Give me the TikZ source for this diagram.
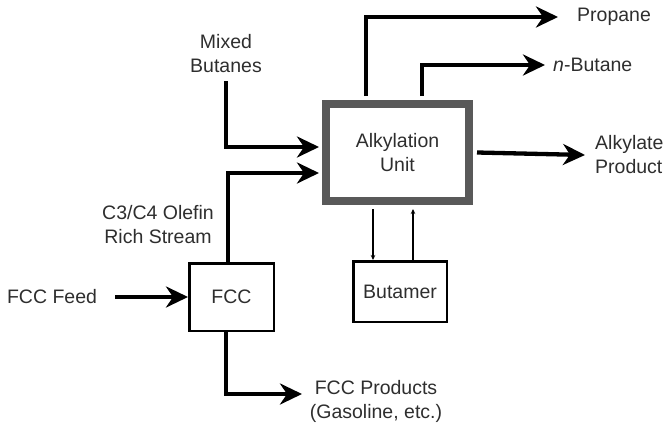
\documentclass[tikz,border=0pt]{standalone}
\usepackage{fontspec}
\setmainfont{Liberation Sans}
\usetikzlibrary{arrows.meta,positioning}
\definecolor{unitgray}{HTML}{595959}
\definecolor{labelgray}{HTML}{2E2E2E}
\begin{document}
\begin{tikzpicture}[
        x=1pt, y=-1pt,
        every node/.style={text=labelgray, font=\fontsize{19.5}{24}\selectfont, align=center},
        stream/.style={inner sep=0pt},
        unit/.style={draw, rectangle, line width=2.5pt},
        mainunit/.style={draw=unitgray, rectangle, line width=8pt, minimum width=143pt, minimum height=97pt},
        flow/.style={draw, line width=4.3pt, -{Stealth[length=22pt, width=21pt, inset=7pt]}},
        recycle/.style={draw, line width=1.5pt, -{Stealth[length=5pt, width=4.5pt]}},
    ]
    \useasboundingbox (0,0) rectangle (669,428);
    \node[mainunit](alky) at (397.5,152.5){Alkylation\\Unit};
    \node[unit, minimum width=84.5pt, minimum height=67.5pt](fcc) at (231.5,297){FCC};
    \node[unit, minimum width=93.5pt, minimum height=60.5pt](butamer) at (400,291.5){Butamer};
    \coordinate (propTip) at (558,17);
    \coordinate (nbTip) at (545,65);
    \coordinate (alkTip) at (585,155);
    \coordinate (prodTip) at (302,394);
    \node[stream, right=19pt of propTip](propane){Propane};
    \node[stream, right=8pt of nbTip](nbutane){\textit{n}-Butane};
    \node[stream, right=10pt of alkTip, align=left](alkylate){Alkylate\\Product};
    \node[stream](mixed) at (226,54){Mixed\\Butanes};
    \node[stream](olefin) at (158,225){C3/C4 Olefin\\Rich Stream};
    \node[stream](feed) at (52,297){FCC Feed};
    \node[stream](products) at (376,401){FCC Products\\(Gasoline, etc.)};
    \draw[flow] ([xshift=-31.5pt, yshift=4pt]alky.north) |- (propTip);
    \draw[flow] ([xshift=24.5pt, yshift=4pt]alky.north) |- (nbTip);
    \draw[flow] ([xshift=4pt]alky.east) -- (alkTip);
    \draw[flow] ([yshift=-8pt]mixed.south) |- ([xshift=-3pt, yshift=5.5pt]alky.west);
    \draw[flow] ([xshift=-3.5pt]fcc.north) |- ([xshift=-3pt, yshift=-20.5pt]alky.west);
    \draw[flow, shorten <=18pt] (feed.east) -- (fcc.west);
    \draw[flow] ([xshift=-5.5pt]fcc.south) |- (prodTip);
    \draw[recycle] ([xshift=-27pt, yshift=-4pt]butamer.north |- alky.south) -- ([xshift=-27pt]butamer.north);
    \draw[recycle] ([xshift=13pt]butamer.north) -- ([xshift=13pt, yshift=-4pt]butamer.north |- alky.south);
\end{tikzpicture}
\end{document}
